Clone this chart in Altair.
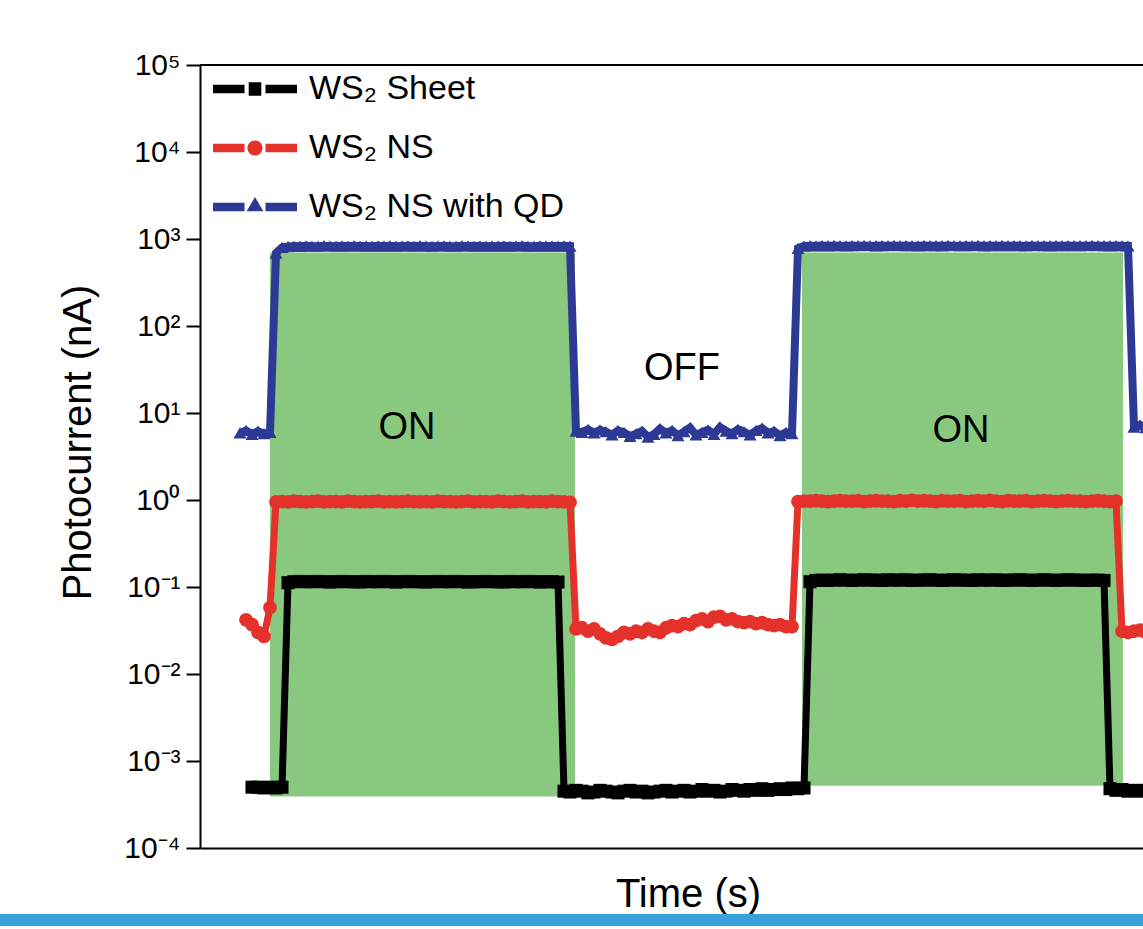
import altair as alt
import pandas as pd

# sampling grid (s) : one reading every 0.6 s
time_s = [round(4.0 + 0.6 * k, 1) for k in range(152)]

sheet = [None, None,
         5.0e-4, 5.0e-4, 4.9e-4, 5.0e-4, 4.9e-4, 5.0e-4,
         0.112, 0.115, 0.116, 0.115, 0.115, 0.116, 0.115, 0.114, 0.115, 0.116,
         0.115, 0.115, 0.114, 0.116, 0.115, 0.115, 0.116, 0.115, 0.114, 0.115,
         0.116, 0.115, 0.115, 0.114, 0.115, 0.116, 0.115, 0.115, 0.116, 0.115,
         0.114, 0.115, 0.115, 0.116, 0.115, 0.115, 0.114, 0.116, 0.115, 0.115,
         0.116, 0.115, 0.114, 0.115, 0.115, 0.114,
         4.5e-4, 4.4e-4, 4.6e-4, 4.5e-4, 4.3e-4, 4.4e-4, 4.6e-4, 4.5e-4, 4.4e-4, 4.3e-4,
         4.5e-4, 4.6e-4, 4.4e-4, 4.5e-4, 4.3e-4, 4.4e-4, 4.5e-4, 4.6e-4, 4.4e-4, 4.5e-4,
         4.6e-4, 4.4e-4, 4.5e-4, 4.7e-4, 4.5e-4, 4.6e-4, 4.4e-4, 4.5e-4, 4.7e-4, 4.6e-4,
         4.5e-4, 4.7e-4, 4.6e-4, 4.8e-4, 4.6e-4, 4.7e-4, 4.8e-4, 4.7e-4, 4.9e-4, 4.8e-4, 4.9e-4,
         0.115, 0.119, 0.120, 0.119, 0.120, 0.121, 0.120, 0.119, 0.120, 0.121,
         0.120, 0.120, 0.119, 0.121, 0.120, 0.120, 0.121, 0.119, 0.120, 0.120,
         0.121, 0.120, 0.119, 0.120, 0.121, 0.120, 0.120, 0.119, 0.121, 0.120,
         0.120, 0.121, 0.119, 0.120, 0.120, 0.121, 0.120, 0.119, 0.120, 0.121,
         0.120, 0.119, 0.120, 0.121, 0.120, 0.120, 0.119, 0.120, 0.120, 0.119,
         4.8e-4, 4.6e-4, 4.7e-4, 4.5e-4, 4.6e-4, 4.5e-4, 4.6e-4]

ns = [None,
      0.042, 0.037, 0.030, 0.027, 0.058,
      0.95, 0.96, 0.95, 0.97, 0.96, 0.95, 0.96, 0.97, 0.95, 0.96,
      0.96, 0.95, 0.97, 0.96, 0.95, 0.96, 0.96, 0.97, 0.95, 0.96,
      0.95, 0.96, 0.97, 0.96, 0.95, 0.96, 0.95, 0.97, 0.96, 0.96,
      0.95, 0.96, 0.97, 0.95, 0.96, 0.96, 0.95, 0.97, 0.96, 0.95,
      0.96, 0.97, 0.95, 0.96, 0.96, 0.95, 0.97, 0.96, 0.95, 0.94,
      0.033, 0.034, 0.031, 0.033, 0.029, 0.026, 0.025, 0.027, 0.030, 0.029,
      0.031, 0.030, 0.033, 0.031, 0.030, 0.034, 0.036, 0.035, 0.038, 0.037,
      0.041, 0.043, 0.040, 0.045, 0.046, 0.042, 0.043, 0.040, 0.039, 0.040,
      0.038, 0.039, 0.037, 0.036, 0.037, 0.035, 0.035,
      0.96, 0.97, 0.97, 0.98, 0.97, 0.96, 0.97, 0.98, 0.97, 0.97,
      0.98, 0.96, 0.97, 0.98, 0.97, 0.97, 0.96, 0.98, 0.97, 0.99,
      0.97, 0.98, 0.97, 0.96, 0.98, 0.97, 0.97, 0.98, 0.96, 0.97,
      0.98, 0.97, 0.99, 0.97, 0.96, 0.98, 0.97, 0.97, 0.98, 0.96,
      0.97, 0.98, 0.97, 0.96, 0.97, 0.98, 0.97, 0.97, 0.96, 0.97,
      0.98, 0.97, 0.96, 0.97,
      0.031, 0.030, 0.031, 0.032, 0.030]

qd = [5.9, 6.3, 5.7, 6.2, 5.8, 6.0,
      690,
      800, 820, 830, 825, 835, 830, 828, 836, 832, 826,
      834, 830, 838, 829, 833, 827, 835, 831, 836, 828,
      832, 834, 829, 837, 831, 826, 833, 835, 830, 828,
      836, 832, 830, 834, 827, 833, 831, 835, 829, 832,
      836, 830, 828, 834, 831, 833, 829, 835, 830,
      6.2, 6.0, 6.5, 5.9, 6.4, 6.1, 5.6, 6.3, 6.0, 5.4,
      5.8, 6.2, 5.3, 5.7, 6.6, 5.9, 6.3, 5.5, 6.1, 6.8,
      5.6, 6.0, 6.4, 5.7, 6.9, 6.2, 5.8, 6.5, 6.1, 5.6,
      6.3, 6.7, 5.9, 6.2, 5.5, 6.0, 5.8,
      780, 830, 838, 834, 840, 836, 842, 838, 835, 841,
      837, 843, 839, 836, 840, 838, 844, 837, 841, 839,
      835, 842, 838, 840, 836, 843, 839, 837, 841, 838,
      844, 836, 840, 839, 842, 837, 841, 838, 835, 843,
      839, 840, 836, 842, 838, 841, 837, 840, 839, 843,
      838, 841, 836, 840, 838, 835,
      6.9, 7.3, 6.8]

series_names = ["WS₂ Sheet", "WS₂ NS", "WS₂ NS with QD"]
series_values = [sheet, ns, qd]
series_colors = ["#000000", "#e4322b", "#2d3a95"]
series_shapes = ["square", "circle", "triangle-up"]
series_sizes = [170, 190, 170]
series_widths = [7, 7, 8]
legend_paths = [
    "M-1,-0.1L-0.25,-0.1L-0.25,0.1L-1,0.1Z M0.25,-0.1L1,-0.1L1,0.1L0.25,0.1Z "
    "M-0.15,-0.16L0.15,-0.16L0.15,0.16L-0.15,0.16Z",
    "M-1,-0.1L-0.25,-0.1L-0.25,0.1L-1,0.1Z M0.25,-0.1L1,-0.1L1,0.1L0.25,0.1Z "
    "M-0.18,0A0.18,0.18 0 1,0 0.18,0A0.18,0.18 0 1,0 -0.18,0Z",
    "M-1,-0.1L-0.25,-0.1L-0.25,0.1L-1,0.1Z M0.25,-0.1L1,-0.1L1,0.1L0.25,0.1Z "
    "M0,-0.24L0.2,0.1L-0.2,0.1Z",
]

on_start = [7.0, 60.2]
on_end = [37.5, 92.3]
on_low = [3.9e-4, 5.2e-4]
on_high = [700, 700]

note_text = ["ON", "ON", "OFF"]
note_t = [20.7, 76.1, 48.2]
note_v = [6.7, 6.2, 31.8]

y_ticks = [1e-4, 1e-3, 1e-2, 1e-1, 1e0, 1e1, 1e2, 1e3, 1e4, 1e5]

W, H = 943, 783
FONT = "Liberation Sans"

xscale = alt.Scale(domain=[0, 94.3], nice=False, zero=False)
yscale = alt.Scale(type="log", domain=[1e-4, 1e5], nice=False)

exp_expr = "round(log(datum.value)/LN10)"
xaxis = alt.Axis(ticks=False, labels=False, grid=False, domainWidth=2, domainColor="black",
                 title="Time (s)", titleFontSize=40, titleFontWeight="normal", titleFont=FONT,
                 titleColor="black", titleX=488, titleY=58, titleBaseline="alphabetic",
                 titleAlign="center")
yaxis = alt.Axis(values=y_ticks, grid=False, domainWidth=2, domainColor="black",
                 tickSize=14, tickWidth=2, tickColor="black",
                 labelFontSize=30, labelFont=FONT, labelColor="black", labelPadding=6,
                 labelExpr="'10' + (" + exp_expr + " < 0 ? '⁻' : '') + "
                           "['⁰','¹','²','³','⁴','⁵'][abs(" + exp_expr + ")]",
                 title="Photocurrent (nA)", titleFontSize=40, titleFontWeight="normal",
                 titleFont=FONT, titleColor="black", titleX=-122, titleY=377,
                 titleAngle=270, titleAlign="center", titleBaseline="middle")


def X(f):
    return alt.X(f, type="quantitative", scale=xscale, axis=xaxis)


def Y(f):
    return alt.Y(f, type="quantitative", scale=yscale, axis=yaxis)


layers = []

rect_df = pd.DataFrame({"t": on_start, "t1": on_end, "v": on_low, "v1": on_high})
layers.append(alt.Chart(rect_df).mark_rect(color="#88c97f", opacity=1).encode(
    x=X("t"), x2=alt.X2("t1"), y=Y("v"), y2=alt.Y2("v1")))

for name, vals, col, shp, sz, sw in zip(series_names, series_values, series_colors,
                                        series_shapes, series_sizes, series_widths):
    d = pd.DataFrame({"t": time_s, "v": vals}).dropna()
    base = alt.Chart(d)
    layers.append(base.mark_line(color=col, strokeWidth=sw, clip=True).encode(
        x=X("t"), y=Y("v")))
    layers.append(base.mark_point(color=col, shape=shp, size=sz, filled=True,
                                  opacity=1, clip=True).encode(x=X("t"), y=Y("v")))

note_df = pd.DataFrame({"label": note_text, "t": note_t, "v": note_v})
layers.append(alt.Chart(note_df).mark_text(font=FONT, fontSize=38, color="black",
                                           align="center", baseline="middle").encode(
    x=X("t"), y=Y("v"), text="label:N"))

leg = alt.Legend(orient="none", legendX=13, legendY=-18, title=None, labelFont=FONT,
                 labelFontSize=34, labelColor="black", labelOffset=12, labelLimit=600,
                 symbolSize=7056, symbolStrokeWidth=0, symbolOpacity=1, padding=0,
                 rowPadding=0)
leg_df = pd.DataFrame({"series": series_names, "t": [-10, -10, -10], "v": [1, 1, 1]})
layers.append(alt.Chart(leg_df).mark_point(filled=True, size=7056, opacity=1, clip=True).encode(
    x=X("t"), y=Y("v"),
    color=alt.Color("series:N", scale=alt.Scale(domain=series_names, range=series_colors),
                    legend=leg, sort=series_names),
    shape=alt.Shape("series:N", scale=alt.Scale(domain=series_names, range=legend_paths),
                    legend=leg, sort=series_names)))

layers.append(alt.Chart(pd.DataFrame({"a": [0]})).mark_rule(color="black", strokeWidth=2).encode(
    x=alt.value(0), x2=alt.value(W + 5), y=alt.value(0)))
layers.append(alt.Chart(pd.DataFrame({"a": [0]})).mark_rule(color="#39a0dc", strokeWidth=12).encode(
    x=alt.value(-200), x2=alt.value(W), y=alt.value(H + 72)))

chart = alt.layer(*layers).properties(
    width=W, height=H,
    autosize=alt.AutoSizeParams(type="none"),
    padding={"left": 200, "top": 65, "right": 0, "bottom": 81},
    background="white",
).configure_view(stroke=None)

chart.save("out.html", embed_options={"renderer": "svg", "actions": False})
